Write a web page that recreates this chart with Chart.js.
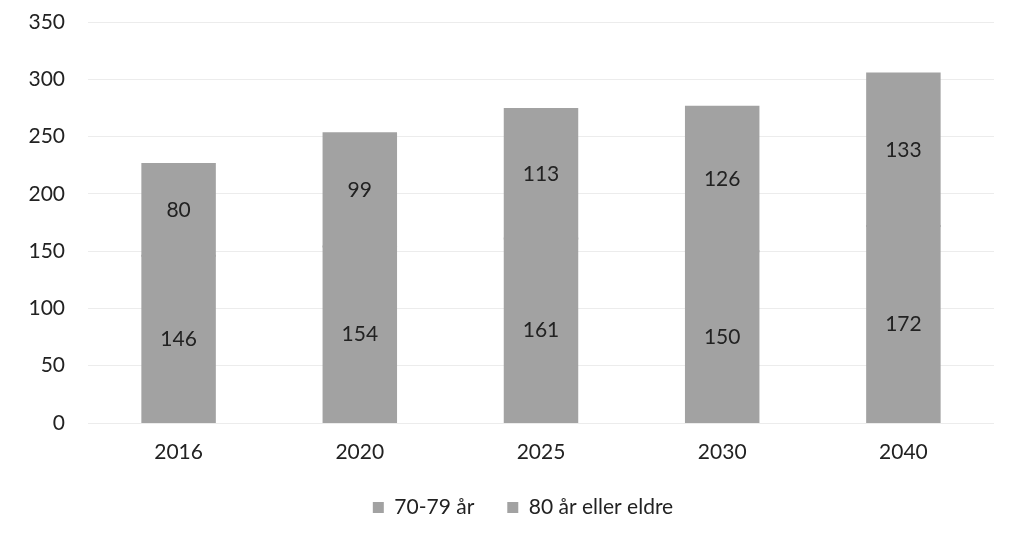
<!DOCTYPE html>
<html>
<head>
<meta charset="utf-8">
<script src="https://cdn.jsdelivr.net/npm/chart.js@4.4.0/dist/chart.umd.min.js"></script>
<style>
html,body{margin:0;padding:0;background:#fff;}
#wrap{width:1010px;height:540px;}
</style>
</head>
<body>
<div id="wrap"><canvas id="c" width="1010" height="540"></canvas></div>
<script>
const categories = ['2016', '2020', '2025', '2030', '2040'];
const age7079 = [146, 154, 161, 150, 172];
const age80plus = [80, 99, 113, 126, 133];
const seriesNames = ['70-79 år', '80 år eller eldre'];
const yTicks = [0, 50, 100, 150, 200, 250, 300, 350];

const FONT = 'Lato, "Open Sans", sans-serif';

const labelPlugin = {
  id: 'segLabels',
  afterDatasetsDraw(chart) {
    const ctx = chart.ctx;
    ctx.save();
    ctx.font = '21px ' + FONT;
    ctx.fillStyle = '#222';
    ctx.textAlign = 'center';
    ctx.textBaseline = 'middle';
    chart.data.datasets.forEach((ds, i) => {
      const meta = chart.getDatasetMeta(i);
      meta.data.forEach((el, j) => {
        const yc = (el.y + el.base) / 2;
        ctx.fillText(String(ds.data[j]), el.x, yc);
      });
    });
    ctx.restore();
  }
};

const legendShift = {
  id: 'legendShift',
  afterLayout(chart) {
    if (chart.legend) {
      chart.legend.left += 26;
      chart.legend.right += 26;
    }
  }
};

new Chart(document.getElementById('c'), {
  type: 'bar',
  data: {
    labels: categories,
    datasets: [
      { label: seriesNames[0], data: age7079, backgroundColor: '#a2a2a2', borderWidth: 0, inflateAmount: 1 },
      { label: seriesNames[1], data: age80plus, backgroundColor: '#a2a2a2', borderWidth: 0, inflateAmount: 1 }
    ]
  },
  options: {
    responsive: false,
    animation: false,
    devicePixelRatio: 1,
    layout: { padding: { top: 22, right: 16, left: 0, bottom: 12 } },
    datasets: { bar: { categoryPercentage: 1.0, barPercentage: 0.4 } },
    scales: {
      x: {
        stacked: true,
        afterFit(scale) { scale.height = 41; },
        grid: { display: false, drawTicks: false },
        border: { display: false },
        ticks: { font: { family: FONT, size: 21 }, color: '#222', padding: 17 }
      },
      y: {
        stacked: true,
        min: 0, max: 350,
        afterBuildTicks(scale) { scale.ticks = yTicks.map(v => ({ value: v })); },
        afterFit(scale) { scale.width = 88; scale.paddingTop = 0; scale.paddingBottom = 0; },
        grid: { color: '#ececec', lineWidth: 1, drawTicks: false },
        border: { display: false },
        ticks: { font: { family: FONT, size: 21 }, color: '#222', padding: 23 }
      }
    },
    plugins: {
      legend: {
        position: 'bottom',
        labels: {
          font: { family: FONT, size: 21 },
          color: '#222',
          boxWidth: 11, boxHeight: 11,
          padding: 33
        }
      },
      tooltip: { enabled: false }
    }
  },
  plugins: [labelPlugin, legendShift]
});
</script>
</body>
</html>
